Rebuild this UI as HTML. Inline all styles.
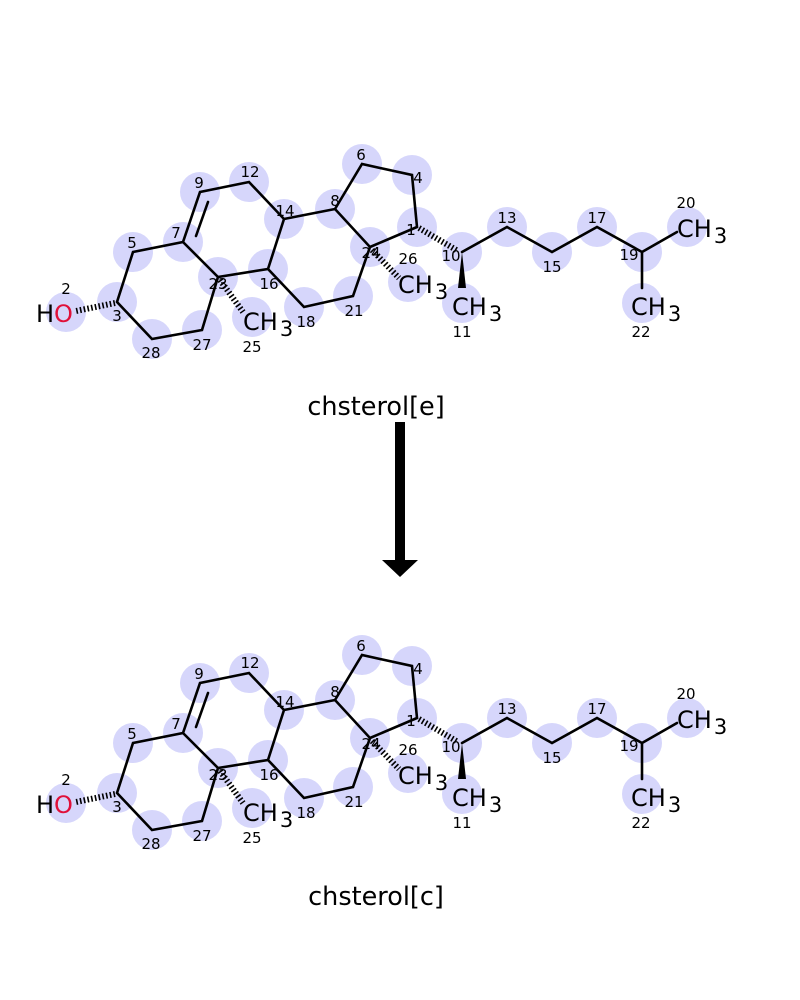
<!DOCTYPE html>
<html><head><meta charset="utf-8"><style>
html,body{margin:0;padding:0;background:#fff;width:800px;height:1000px;overflow:hidden}
svg{display:block}
.b{stroke:#000;stroke-width:2.6;fill:none;stroke-linecap:round}
.h{stroke:#000;stroke-width:6;stroke-dasharray:1.6 2.2;fill:none}
.c{fill:#d6d6fb}
.n{font-family:"DejaVu Sans","Liberation Sans",sans-serif;font-size:15px;fill:#000;text-anchor:middle}
.g{font-family:"DejaVu Sans","Liberation Sans",sans-serif;font-size:24px;fill:#000}
.t{font-family:"DejaVu Sans","Liberation Sans",sans-serif;font-size:25.5px;fill:#000;text-anchor:middle}
</style></head><body>
<svg width="800" height="1000" viewBox="0 0 800 1000">
<defs>
<g id="m">
<g class="c">
<circle cx="66" cy="312" r="20"/><circle cx="117" cy="302" r="20"/><circle cx="133" cy="252" r="20"/>
<circle cx="183" cy="242" r="20"/><circle cx="200" cy="192" r="20"/><circle cx="249" cy="182" r="20"/>
<circle cx="284" cy="219" r="20"/><circle cx="268" cy="269" r="20"/><circle cx="218" cy="277" r="20"/>
<circle cx="202" cy="330" r="20"/><circle cx="152" cy="339" r="20"/><circle cx="252" cy="317" r="20"/>
<circle cx="304" cy="307" r="20"/><circle cx="353" cy="296" r="20"/><circle cx="370" cy="247" r="20"/>
<circle cx="335" cy="209" r="20"/><circle cx="362" cy="164" r="20"/><circle cx="412" cy="175" r="20"/>
<circle cx="417" cy="227" r="20"/><circle cx="408" cy="282" r="20"/><circle cx="462" cy="252" r="20"/>
<circle cx="462" cy="303" r="20"/><circle cx="507" cy="227" r="20"/><circle cx="552" cy="252" r="20"/>
<circle cx="597" cy="227" r="20"/><circle cx="642" cy="252" r="20"/><circle cx="687" cy="227" r="20"/>
<circle cx="642" cy="303" r="20"/>
</g>
<path class="b" d="M117,302 L133,252 L183,242 L200,192 L249,182 L284,219 L335,209 L370,247 L353,296 L304,307 L268,269 L218,277 L183,242 M284,219 L268,269 M218,277 L202,330 L152,339 L117,302 M335,209 L362,164 L412,175 L417,227 L370,247 M196,236 L208,202 M462,252 L507,227 L552,252 L597,227 L642,252 L677,232 M642,252 L642,288"/>
<line class="h" x1="115" y1="303" x2="76" y2="311"/>
<line class="h" x1="220" y1="280" x2="243" y2="312"/>
<line class="h" x1="372" y1="250" x2="399" y2="278"/>
<line class="h" x1="419" y1="228" x2="458" y2="251"/>
<polygon points="462,252 458,288 466,288" fill="#000"/>
<text class="g" x="36" y="322">H<tspan fill="#e0103a">O</tspan></text>
<text class="g" x="243" y="330">CH<tspan font-size="21" dx="2" dy="6">3</tspan></text>
<text class="g" x="398" y="293">CH<tspan font-size="21" dx="2" dy="6">3</tspan></text>
<text class="g" x="452" y="315">CH<tspan font-size="21" dx="2" dy="6">3</tspan></text>
<text class="g" x="677" y="237">CH<tspan font-size="21" dx="2" dy="6">3</tspan></text>
<text class="g" x="631" y="315">CH<tspan font-size="21" dx="2" dy="6">3</tspan></text>
<g class="n">
<text x="66" y="294">2</text><text x="117" y="321">3</text><text x="132" y="248">5</text>
<text x="176" y="238">7</text><text x="199" y="188">9</text><text x="250" y="177">12</text>
<text x="285" y="216">14</text><text x="269" y="289">16</text><text x="218" y="289">23</text>
<text x="202" y="350">27</text><text x="151" y="358">28</text><text x="252" y="352">25</text>
<text x="306" y="327">18</text><text x="354" y="316">21</text><text x="371" y="258">24</text>
<text x="335" y="206">8</text><text x="361" y="160">6</text><text x="418" y="183">4</text>
<text x="411" y="235">1</text><text x="408" y="264">26</text><text x="451" y="261">10</text>
<text x="462" y="337">11</text><text x="507" y="223">13</text><text x="552" y="272">15</text>
<text x="597" y="223">17</text><text x="629" y="260">19</text><text x="686" y="208">20</text>
<text x="641" y="337">22</text>
</g>
</g>
</defs>
<use href="#m"/>
<use href="#m" transform="translate(0,491)"/>
<text class="t" x="376" y="415">chsterol[e]</text>
<text class="t" x="376" y="905">chsterol[c]</text>
<rect x="395" y="422" width="10" height="140" fill="#000"/>
<polygon points="382,560 418,560 400,577" fill="#000"/>
</svg>
</body></html>
